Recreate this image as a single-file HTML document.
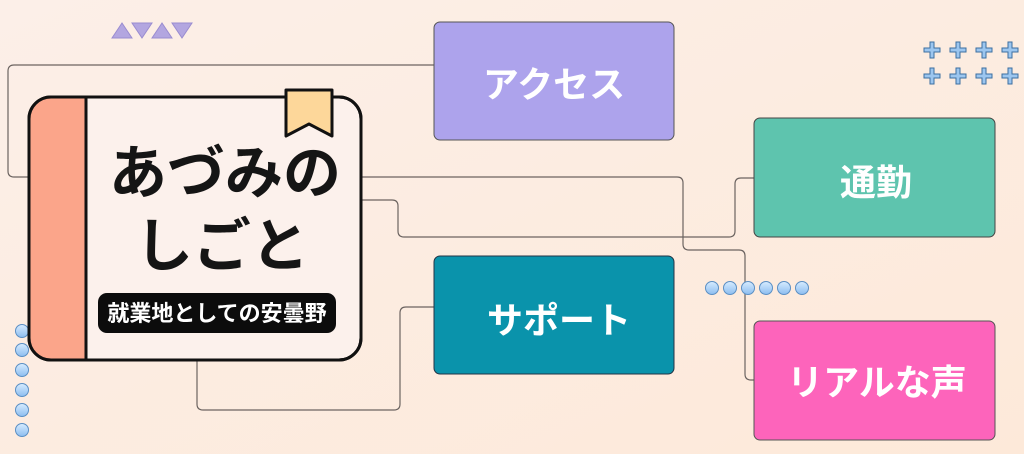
<!DOCTYPE html>
<html><head><meta charset="utf-8"><style>
html,body{margin:0;padding:0;background:#fcefe6;}
svg{display:block;}
text{font-family:"Liberation Sans","Noto Sans CJK JP",sans-serif;font-weight:bold;}
</style></head><body>
<svg width="1024" height="454" viewBox="0 0 1024 454">
<defs>
<linearGradient id="bg" x1="0" y1="0" x2="1" y2="1"><stop offset="0" stop-color="#fcefe8"/><stop offset="1" stop-color="#fde9d9"/></linearGradient>
<linearGradient id="dot" x1="0" y1="0" x2="0" y2="1"><stop offset="0" stop-color="#d8ecff"/><stop offset="1" stop-color="#8cbdf0"/></linearGradient>
<path id="pl" d="M-2,-8 h4 v6 h6 v4 h-6 v6 h-4 v-6 h-6 v-4 h6z"/>
</defs>
<rect width="1024" height="454" fill="url(#bg)"/>
<g fill="none" stroke="#6b6360" stroke-width="1.2">
<path d="M434 65 H14 Q8 65 8 71 V171 Q8 177 14 177 H30"/>
<path d="M362 177 H677 Q683 177 683 183 V244 Q683 250 689 250 H739 Q745 250 745 256 V374 Q745 380 751 380 H754"/>
<path d="M362 200 H392 Q398 200 398 206 V231 Q398 237 404 237 H729 Q735 237 735 231 V184 Q735 178 741 178 H754"/>
<path d="M434 307 H406 Q400 307 400 313 V404 Q400 410 394 410 H203 Q197 410 197 404 V360"/>
</g>
<g fill="#b3a6e0" stroke="#9a8cd0" stroke-width="1">
<polygon points="112,38 122,23 132,38"/><polygon points="132,23 152,23 142,38"/>
<polygon points="152,38 162,23 172,38"/><polygon points="172,23 192,23 182,38"/>
</g>
<g fill="#9cc6ef" stroke="#3c6fa0" stroke-width="1">
<use href="#pl" x="932" y="50"/><use href="#pl" x="958" y="50"/><use href="#pl" x="984" y="50"/><use href="#pl" x="1010" y="50"/>
<use href="#pl" x="932" y="76"/><use href="#pl" x="958" y="76"/><use href="#pl" x="984" y="76"/><use href="#pl" x="1010" y="76"/>
</g>
<g fill="url(#dot)" stroke="#5b8fc4" stroke-width="1">
<circle cx="712" cy="288" r="6.5"/><circle cx="730" cy="288" r="6.5"/><circle cx="748" cy="288" r="6.5"/><circle cx="766" cy="288" r="6.5"/><circle cx="784" cy="288" r="6.5"/><circle cx="802" cy="288" r="6.5"/>
<circle cx="22" cy="331" r="6.5"/><circle cx="22" cy="350" r="6.5"/><circle cx="22" cy="370" r="6.5"/><circle cx="22" cy="390" r="6.5"/><circle cx="22" cy="410" r="6.5"/><circle cx="22" cy="430" r="6.5"/>
</g>
<rect x="29" y="97" width="332" height="263" rx="22" fill="#fcf1ec" stroke="#111" stroke-width="3"/>
<path d="M86 98 H51 Q30 98 30 119 V338 Q30 359 51 359 H86 Z" fill="#fba58a"/>
<line x1="86" y1="97" x2="86" y2="360" stroke="#111" stroke-width="3"/>
<rect x="29" y="97" width="332" height="263" rx="22" fill="none" stroke="#111" stroke-width="3"/>
<path d="M286 90 H332 V136 L309 124 L286 136 Z" fill="#fdd79a" stroke="#111" stroke-width="3" stroke-linejoin="round"/>
<text x="225" y="193" font-size="58" text-anchor="middle" fill="#151515">あづみの</text>
<text x="222" y="266" font-size="58" text-anchor="middle" fill="#151515">しごと</text>
<rect x="98" y="293" width="238" height="40" rx="9" fill="#0c0c0c"/>
<text x="217" y="321" font-size="22" text-anchor="middle" fill="#fff" font-weight="normal">就業地としての安曇野</text>
<rect x="434" y="22" width="240" height="118" rx="6" fill="#ada3ec" stroke="#555" stroke-width="1"/>
<text x="554" y="97" font-size="36" text-anchor="middle" fill="#fff">アクセス</text>
<rect x="754" y="118" width="241" height="119" rx="6" fill="#5ec4ae" stroke="#444" stroke-width="1"/>
<text x="876" y="195" font-size="36" text-anchor="middle" fill="#fff">通勤</text>
<rect x="434" y="256" width="240" height="118" rx="6" fill="#0a93ab" stroke="#234" stroke-width="1"/>
<text x="559" y="333" font-size="36" text-anchor="middle" fill="#fff">サポート</text>
<rect x="754" y="321" width="241" height="119" rx="6" fill="#fd64bb" stroke="#555" stroke-width="1"/>
<text x="877" y="395" font-size="36" text-anchor="middle" fill="#fff">リアルな声</text>
</svg>
</body></html>
